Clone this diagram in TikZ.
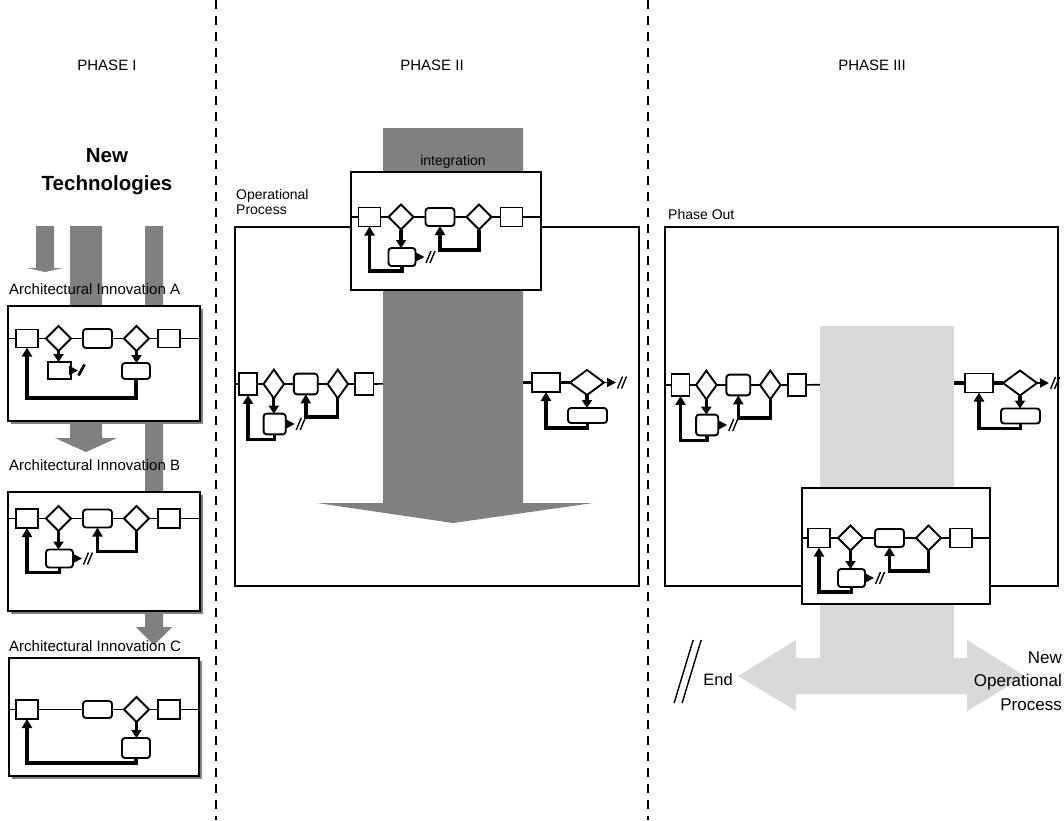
\documentclass[tikz,border=0pt]{standalone}
\usepackage{fontspec}
\setmainfont{Liberation Sans}
\usetikzlibrary{arrows.meta,shapes.geometric}
\definecolor{dgray}{RGB}{128,128,128}
\definecolor{lgray}{RGB}{217,217,217}
\tikzset{
  box/.style={draw, line width=2pt, fill=white, inner sep=0pt},
  elem/.style={draw, line width=1.9pt, fill=white, inner sep=0pt, outer sep=0pt},
  sqr/.style={elem, rectangle},
  rr/.style={elem, rectangle, rounded corners=3pt},
  dia/.style={elem, diamond},
  mainln/.style={line width=1.7pt},
  thickln/.style={line width=3.2pt},
  arr/.style={line width=3.2pt, -{Triangle[length=8pt,width=10pt]}},
  looparr/.style={line width=3.4pt, line join=miter, -{Triangle[length=9pt,width=10pt]}},
  sarr/.style={line width=1.8pt, -{Triangle[length=9pt,width=9pt]}},
  slash/.style={line width=1.4pt},
  divider/.style={line width=2pt, dash pattern=on 9pt off 7pt},
  head/.style={font=\fontsize{15pt}{18pt}\selectfont, inner sep=0pt},
  lbl/.style={font=\fontsize{15pt}{18pt}\selectfont, inner sep=0pt, anchor=west},
  smalllbl/.style={font=\fontsize{14pt}{15pt}\selectfont, inner sep=0pt},
}
% generic flow: square, diamond, rounded box, diamond, square; sub box with // ; two loops
\newcommand{\flowB}[5]{%
  \node[sqr, minimum width={#4*22pt}, minimum height={#5*19pt}] (#1S1) at (#2,#3) {};
  \node[dia, minimum width={#4*25pt}, minimum height={#5*25pt}] (#1D1) at ({#2+#4*31.5},#3) {};
  \node[rr, minimum width={#4*29pt}, minimum height={#5*18pt}] (#1RR) at ({#2+#4*70.5},#3) {};
  \node[dia, minimum width={#4*25pt}, minimum height={#5*25pt}] (#1D2) at ({#2+#4*109.5},#3) {};
  \node[sqr, minimum width={#4*22pt}, minimum height={#5*19pt}] (#1S2) at ({#2+#4*142},#3) {};
  \node[rr, minimum width={#4*27pt}, minimum height={#5*18pt}] (#1R) at ({#2+#4*32.5},{#3+40}) {};
  \coordinate (#1B2) at ({#2+#4*109.5},{#3+33});
  \draw[mainln] (#1S1) -- (#1D1) -- (#1RR) -- (#1D2) -- (#1S2);
  \draw[arr] (#1D1.south) -- (#1D1.south |- #1R.north);
  \draw[sarr] (#1R.east) -- ++(9,0) coordinate (#1T);
  \draw[slash] (#1T) ++(1.5,6) -- ++(5,-12);
  \draw[slash] (#1T) ++(5.5,6) -- ++(5,-12);
  \draw[looparr] (#1R.south) -- ++(0,5) -| (#1S1.south);
  \draw[looparr] (#1D2.south) -- (#1B2) -| (#1RR.south);
}
% right-hand flow: square, diamond with //, box with loop
\newcommand{\flowR}[3]{%
  \node[sqr, minimum width=28pt, minimum height=19pt] (#1S) at (#2,#3) {};
  \node[dia, minimum width=34pt, minimum height=25pt] (#1D) at ({#2+41},#3) {};
  \node[rr, minimum width=39pt, minimum height=15pt] (#1R) at ({#2+41.5},{#3+33}) {};
  \draw[thickln] (#1S) -- (#1D);
  \draw[thickln] (#1S.west) -- ++(-11,0);
  \draw[sarr] (#1D.east) -- ++(12,0) coordinate (#1T);
  \draw[slash] (#1T) ++(1.5,6) -- ++(5,-12);
  \draw[slash] (#1T) ++(5.5,6) -- ++(5,-12);
  \draw[arr] (#1D.south) -- (#1D.south |- #1R.north);
  \draw[looparr] (#1R.south) -- ++(0,5) -| (#1S.south);
}
\begin{document}
\begin{tikzpicture}[x=1pt,y=-1pt]
\useasboundingbox (0,0) rectangle (1064,820);
\fill[white] (0,0) rectangle (1064,820);

% dividers
\draw[divider] (215.5,0) -- (215.5,820);
\draw[divider] (648,0) -- (648,820);

% headings
\node[head] (ph1) at (107,65) {PHASE I};
\node[head] (ph2) at (432,65) {PHASE II};
\node[head] (ph3) at (872,65) {PHASE III};

% ================= PHASE I =================
\node[font=\bfseries\fontsize{20.5pt}{28pt}\selectfont, align=center, inner sep=0pt] (newtech) at (107,172) {New\\Technologies};

\fill[dgray] (36,226) -- (54,226) -- (54,268) -- (63,268) -- (45,272) -- (27,268) -- (36,268) -- cycle;
\fill[dgray] (70,226) -- (102,226) -- (102,438) -- (117,438) -- (86,452) -- (55,438) -- (70,438) -- cycle;
\fill[dgray] (145,226) -- (163,226) -- (163,627) -- (172,627) -- (154,645) -- (136,627) -- (145,627) -- cycle;

% Box A
\fill[dgray] (11,309) rectangle (203,424);
\node[box, minimum width=192pt, minimum height=115pt] (boxA) at (104,363.5) {};
\node[lbl] (labA) at (9,289) {Architectural Innovation A};
\node[sqr, minimum width=22pt, minimum height=18pt] (aS1) at (27,338.5) {};
\node[dia, minimum width=25pt, minimum height=25pt] (aD1) at (58.5,338.5) {};
\node[rr, minimum width=29pt, minimum height=19pt] (aRR) at (97.5,338.5) {};
\node[dia, minimum width=25pt, minimum height=25pt] (aD2) at (136.5,338.5) {};
\node[sqr, minimum width=22pt, minimum height=18pt] (aS2) at (169,338.5) {};
\node[sqr, minimum width=23pt, minimum height=17pt] (aR1) at (59.5,370.5) {};
\node[rr, minimum width=28pt, minimum height=16pt] (aR2) at (136,371) {};
\draw[mainln] (boxA.west |- aS1) -- (aS1) -- (aD1) -- (aRR) -- (aD2) -- (aS2) -- (boxA.east |- aS2);
\draw[arr] (aD1.south) -- (aD1.south |- aR1.north);
\draw[arr] (aD2.south) -- (aD2.south |- aR2.north);
\draw[sarr] (aR1.east) -- ++(7,0) coordinate (aT);
\draw[line width=2.8pt] (aT) ++(0.5,5) -- ++(6,-11);
\draw[looparr] (aR2.south) -- ++(0,19) -| (aS1.south);

% Box B
\fill[dgray] (11,495) rectangle (203,614);
\node[box, minimum width=192pt, minimum height=119pt] (boxB) at (104,551.5) {};
\node[lbl] (labB) at (9,465) {Architectural Innovation B};
\flowB{b}{27}{518.5}{1}{1}
\draw[mainln] (boxB.west |- bS1) -- (bS1);
\draw[mainln] (bS2) -- (boxB.east |- bS2);

% Box C
\fill[dgray] (12,661) rectangle (202,779);
\node[box, minimum width=190pt, minimum height=118pt] (boxC) at (104,717) {};
\node[lbl] (labC) at (9,646) {Architectural Innovation C};
\node[sqr, minimum width=22pt, minimum height=19pt] (cS1) at (27,709.5) {};
\node[rr, minimum width=29pt, minimum height=17pt] (cRR) at (97.5,709.5) {};
\node[dia, minimum width=25pt, minimum height=25pt] (cD) at (136.5,709.5) {};
\node[sqr, minimum width=22pt, minimum height=19pt] (cS2) at (169,709.5) {};
\node[rr, minimum width=28pt, minimum height=20pt] (cR) at (136,748) {};
\draw[mainln] (boxC.west |- cS1) -- (cS1) -- (cRR) -- (cD) -- (cS2) -- (boxC.east |- cS2);
\draw[arr] (cD.south) -- (cD.south |- cR.north);
\draw[looparr] (cR.south) -- ++(0,5) -| (cS1.south);

% ================= PHASE II =================
\node[box, minimum width=404pt, minimum height=359pt] (opbox) at (437,406.5) {};
\node[smalllbl, anchor=north west, align=left] (oplab) at (236,189) {Operational\\Process};
\flowB{p}{248}{384}{0.82}{1.15}
\flowR{q}{546}{382.5}
\draw[mainln] (opbox.west |- pS1) -- (pS1);
\draw[mainln] (pS2) -- (qS);
\fill[dgray] (383,128) -- (523,128) -- (523,503) -- (593,503) -- (453,523) -- (317,503) -- (383,503) -- cycle;
\node[smalllbl] (integ) at (453,162) {integration};
\node[box, minimum width=190pt, minimum height=118pt] (intbox) at (446,231) {};
\flowB{i}{369.5}{217}{1}{1}
\draw[mainln] (intbox.west |- iS1) -- (iS1);
\draw[mainln] (iS2) -- (intbox.east |- iS2);

% ================= PHASE III =================
\node[box, minimum width=393pt, minimum height=359pt] (outbox) at (861.5,406.5) {};
\node[smalllbl, anchor=west] (outlab) at (668,214) {Phase Out};
\flowB{u}{680.5}{385}{0.82}{1.15}
\flowR{v}{979}{383}
\draw[mainln] (outbox.west |- uS1) -- (uS1);
\draw[mainln] (uS2) -- (vS);
\fill[lgray] (820,326) -- (954,326) -- (954,658) -- (967,658) -- (967,640) -- (1025,676) -- (967,711) -- (967,694)
  -- (796,694) -- (796,711) -- (738,676) -- (796,640) -- (796,658) -- (820,658) -- cycle;
\node[box, minimum width=188pt, minimum height=116pt] (intbox3) at (896,546) {};
\flowB{j}{819}{538}{1}{1}
\draw[mainln] (intbox3.west |- jS1) -- (jS1);
\draw[mainln] (jS2) -- (intbox3.east |- jS2);

\node[font=\fontsize{16.5pt}{20pt}\selectfont, inner sep=0pt] (endlab) at (718,680) {End};
\draw[line width=1.4pt] (endlab.west) ++(-29,23) -- ++(19,-63);
\draw[line width=1.4pt] (endlab.west) ++(-21,23) -- ++(19,-63);
\node[font=\fontsize{17pt}{23.5pt}\selectfont, align=right, inner sep=0pt, anchor=east] (newop) at (1062,681) {New\\Operational\\Process};
\end{tikzpicture}
\end{document}
